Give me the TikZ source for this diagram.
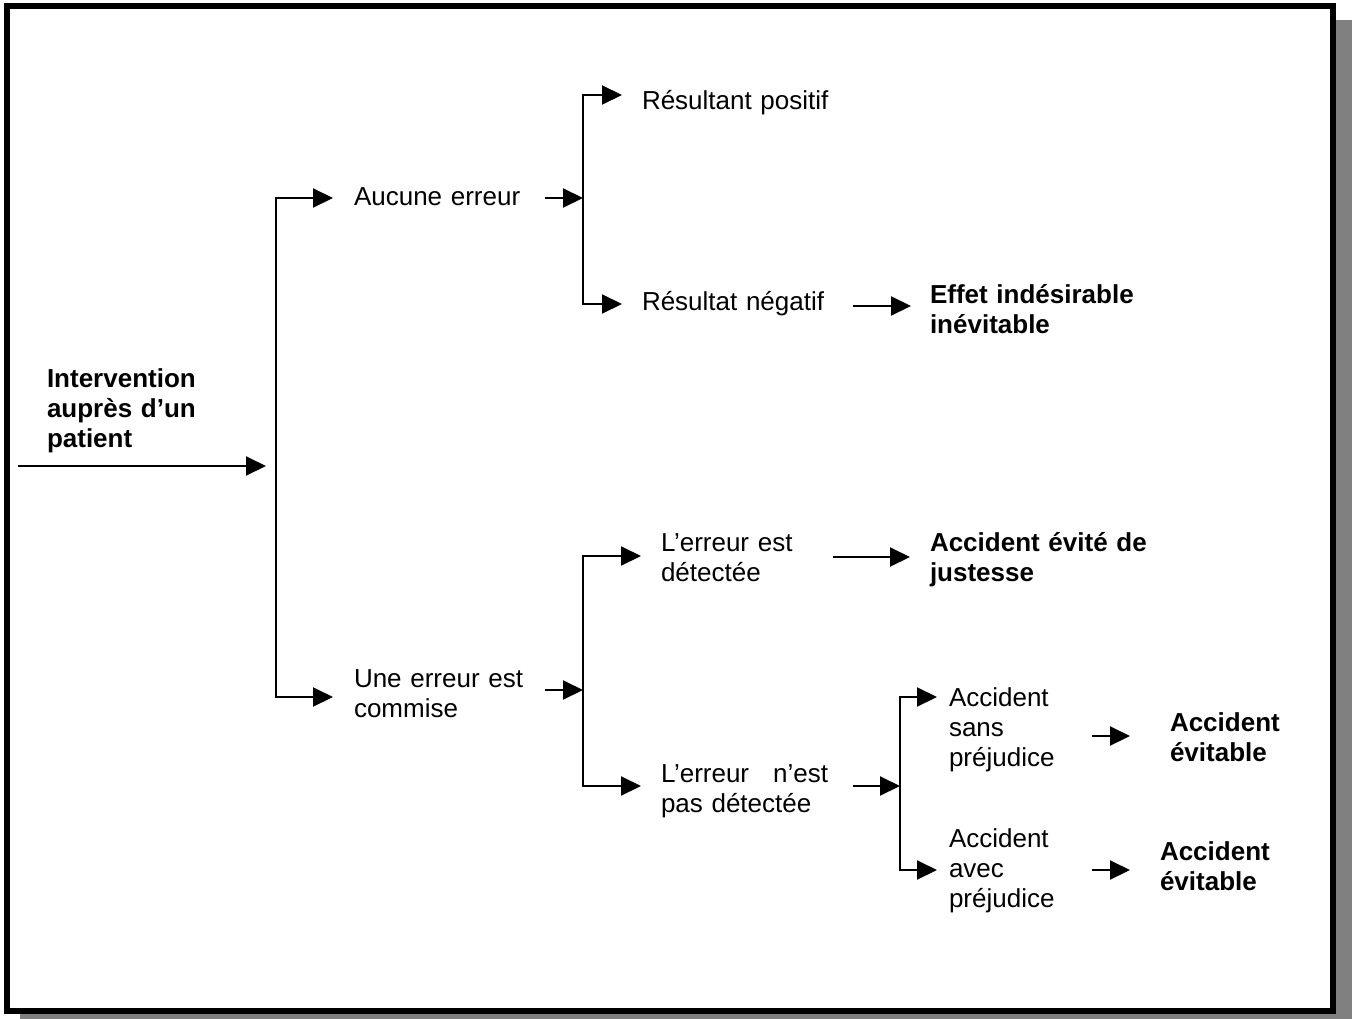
\documentclass[tikz,border=0pt]{standalone}
\usepackage{fontspec}
\setmainfont{Liberation Sans}
\usetikzlibrary{arrows.meta}
\definecolor{shadowgray}{HTML}{808080}
\begin{document}
\begin{tikzpicture}[x=1pt,y=-1pt,
  lbl/.style={anchor=base west, inner sep=0pt, outer sep=0pt,
    font=\fontsize{26}{30}\selectfont, align=left, text width=260pt},
  blbl/.style={lbl, font=\fontsize{26}{30}\selectfont\bfseries},
  tip/.tip={Triangle[length=20pt,width=19pt]},
  arr/.style={-tip, line width=2pt},
  barr/.style={tip-tip, line width=2pt, line join=miter}]
\useasboundingbox (0,0) rectangle (1356,1019);
% frame with shadow
\fill[shadowgray] (20,20) rectangle (1352,1019);
\draw[line width=6pt, fill=white] (7,6) rectangle (1333,1011);

% texts
\node[blbl] (intv) at (47,387) {Intervention\\auprès d’un\\patient};
\node[lbl] (auc) at (354,205) {Aucune erreur};
\node[lbl] (respos) at (642,110) {Résultant positif};
\node[lbl] (resneg) at (642,310) {Résultat négatif};
\node[blbl] (effet) at (930,303) {Effet indésirable\\inévitable};
\node[lbl] (une) at (354,687) {Une erreur est\\commise};
\node[lbl] (det) at (661,551) {L’erreur est\\détectée};
\node[blbl] (ajust) at (930,551) {Accident évité de\\justesse};
\node[lbl] (nondet) at (661,782) {L’erreur\hspace{24pt}n’est\\pas détectée};
\node[lbl] (sans) at (949,706) {Accident\\sans\\préjudice};
\node[lbl] (avec) at (949,847) {Accident\\avec\\préjudice};
\node[blbl] (evit1) at (1170,731) {Accident\\évitable};
\node[blbl] (evit2) at (1160,860) {Accident\\évitable};

% coordinates
\coordinate (in0) at (18,466);
\coordinate (in1) at (266,466);
\coordinate (tA) at (276,198);
\coordinate (tB) at (276,697);
\coordinate (aucTip) at (333,198);
\coordinate (uneTip) at (333,697);
\coordinate (aucOut) at (545,198);
\coordinate (bA) at (583,95);
\coordinate (bM) at (583,198);
\coordinate (bB) at (583,304);
\coordinate (posTip) at (622,95);
\coordinate (negTip) at (622,304);
\coordinate (negOut) at (853,306);
\coordinate (effetTip) at (911,306);
\coordinate (uneOut) at (545,690);
\coordinate (cA) at (583,556);
\coordinate (cM) at (583,690);
\coordinate (cB) at (583,786);
\coordinate (detTip) at (641,556);
\coordinate (ndTip) at (641,786);
\coordinate (detOut) at (833,557);
\coordinate (ajustTip) at (910,557);
\coordinate (ndOut) at (853,786);
\coordinate (dA) at (900,697);
\coordinate (dM) at (900,786);
\coordinate (dB) at (900,870);
\coordinate (sansTip) at (937,697);
\coordinate (avecTip) at (937,870);
\coordinate (sansOut) at (1092,736);
\coordinate (ev1Tip) at (1130,736);
\coordinate (avecOut) at (1092,870);
\coordinate (ev2Tip) at (1130,870);

% connectors
\draw[arr] (in0) -- (in1);
\draw[barr] (aucTip) -- (tA) -- (tB) -- (uneTip);
\draw[arr] (aucOut) -- (bM);
\draw[barr] (posTip) -- (bA) -- (bB) -- (negTip);
\draw[arr] (negOut) -- (effetTip);
\draw[arr] (uneOut) -- (cM);
\draw[barr] (detTip) -- (cA) -- (cB) -- (ndTip);
\draw[arr] (detOut) -- (ajustTip);
\draw[arr] (ndOut) -- (dM);
\draw[barr] (sansTip) -- (dA) -- (dB) -- (avecTip);
\draw[arr] (sansOut) -- (ev1Tip);
\draw[arr] (avecOut) -- (ev2Tip);
\end{tikzpicture}
\end{document}
